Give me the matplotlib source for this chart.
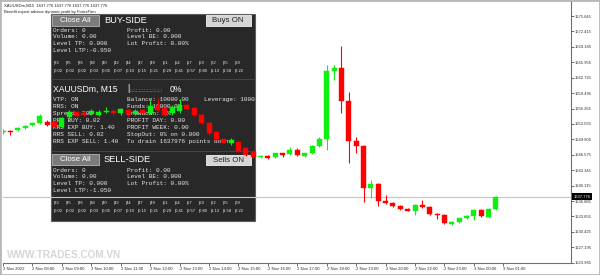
import matplotlib
matplotlib.use('Agg')
import numpy as np
import matplotlib.pyplot as plt
from matplotlib.patches import Rectangle
from matplotlib.transforms import Affine2D, blended_transform_factory

# ---------------- data ----------------
opens = [1651.35, 1651.56, 1651.66, 1652.12, 1652.71, 1653.13, 1653.50, 1653.50, 1652.46, 1654.43,
         1655.54, 1655.33, 1655.12, 1654.91, 1655.47, 1655.81, 1655.26, 1655.96, 1655.12, 1655.85,
         1655.43, 1656.79, 1656.31, 1655.26, 1655.75, 1657.00, 1656.31, 1654.91, 1653.17, 1651.35,
         1649.82, 1648.98, 1649.31, 1647.93, 1647.22, 1646.05, 1646.38, 1646.05, 1646.88, 1646.67,
         1647.58, 1646.38, 1647.01, 1648.41, 1649.88, 1664.19, 1664.69, 1657.84, 1649.52, 1648.41,
         1639.55, 1640.45, 1636.95, 1636.41, 1635.84, 1635.21, 1634.86, 1636.05, 1635.57, 1634.17,
         1633.96, 1632.07, 1632.43, 1633.27, 1633.75, 1635.01, 1633.60, 1635.21]
closes = [1651.45, 1651.28, 1652.12, 1652.67, 1653.13, 1654.70, 1652.81, 1652.46, 1654.22, 1655.60,
          1654.70, 1655.01, 1655.75, 1655.60, 1655.81, 1655.26, 1656.10, 1655.05, 1655.75, 1655.43,
          1656.79, 1655.96, 1654.91, 1656.65, 1657.00, 1656.10, 1654.91, 1653.17, 1651.07, 1649.82,
          1649.10, 1649.67, 1647.43, 1646.53, 1646.05, 1646.38, 1645.96, 1646.88, 1646.53, 1647.58,
          1646.53, 1646.88, 1648.41, 1649.88, 1664.13, 1664.69, 1657.84, 1649.52, 1648.41, 1639.55,
          1640.45, 1636.95, 1636.41, 1635.84, 1635.21, 1634.86, 1636.05, 1635.57, 1634.17, 1633.89,
          1632.22, 1632.43, 1633.27, 1633.75, 1635.01, 1633.75, 1635.21, 1637.776]
highs = [1651.87, 1651.77, 1652.29, 1652.81, 1653.50, 1655.12, 1653.86, 1653.76, 1654.49, 1655.96,
         1655.75, 1655.64, 1656.06, 1655.85, 1656.65, 1656.06, 1656.37, 1656.16, 1656.06, 1656.16,
         1658.15, 1658.47, 1656.58, 1657.00, 1658.20, 1657.21, 1656.48, 1655.12, 1653.34, 1651.56,
         1649.98, 1650.09, 1649.46, 1648.10, 1647.47, 1646.53, 1646.53, 1647.05, 1647.05, 1648.20,
         1647.99, 1647.05, 1648.62, 1650.30, 1665.38, 1665.38, 1669.36, 1659.79, 1650.36, 1648.62,
         1641.29, 1640.66, 1638.15, 1636.58, 1636.05, 1635.42, 1636.26, 1637.10, 1635.74, 1634.38,
         1634.17, 1632.60, 1633.43, 1633.96, 1635.21, 1635.21, 1635.42, 1637.90]
lows = [1651.03, 1650.82, 1651.45, 1651.97, 1652.60, 1652.92, 1652.60, 1652.18, 1652.29, 1654.17,
        1654.49, 1654.70, 1654.91, 1654.70, 1655.26, 1655.01, 1655.01, 1654.80, 1654.91, 1655.12,
        1655.22, 1655.75, 1654.70, 1655.01, 1655.26, 1655.85, 1654.70, 1652.92, 1650.82, 1649.57,
        1648.94, 1648.62, 1647.16, 1646.32, 1645.90, 1645.90, 1645.69, 1645.90, 1646.11, 1646.53,
        1646.32, 1646.21, 1646.84, 1648.20, 1647.58, 1662.24, 1655.39, 1644.79, 1646.95, 1636.74,
        1637.52, 1635.84, 1636.26, 1635.63, 1635.01, 1634.69, 1633.96, 1635.42, 1633.96, 1633.06,
        1632.07, 1631.86, 1632.28, 1633.12, 1632.91, 1633.54, 1633.43, 1635.01]

time_label_bars = [0, 4, 8, 12, 16, 20, 24, 28, 32, 36, 40, 44, 48, 52, 56, 60, 64, 68]
time_labels = ['2 Nov 2022', '2 Nov 08:00', '2 Nov 09:00', '2 Nov 10:00', '2 Nov 11:00',
               '2 Nov 12:00', '2 Nov 13:00', '2 Nov 14:00', '2 Nov 15:00', '2 Nov 16:00',
               '2 Nov 17:00', '2 Nov 18:00', '2 Nov 19:00', '2 Nov 20:00', '2 Nov 22:00',
               '2 Nov 23:00', '3 Nov 00:00', '3 Nov 01:00']
price_ticks = [1623.965, 1627.195, 1630.425, 1633.655, 1636.885, 1640.115, 1643.345, 1646.575,
               1649.805, 1653.035, 1656.265, 1659.495, 1662.725, 1665.955, 1669.185, 1672.415, 1675.645]
current_price = 1637.776

grid_levels = ['|33', '|35', '|36', '|38', '|40', '|42', '|44', '|47',
               '|49', '|51', '|54', '|57', '|59', '|62', '|65', '|69']
grid_lots = ['|0.02', '|0.02', '|0.02', '|0.03', '|0.05', '|0.07', '|0.10', '|0.15',
             '|0.21', '|0.29', '|0.41', '|0.57', '|0.80', '|1.13', '|1.58', '|2.22']

buy_left = ['Orders: 0', 'Volume: 0.00', 'Level TP: 0.000', 'Level LTP:-0.950']
buy_right = ['Profit: 0.00', 'Level BE: 0.000', 'Lot Profit: 0.00%']
sell_left = ['Orders: 0', 'Volume: 0.00', 'Level TP: 0.000', 'Level LTP:-1.050']
sell_right = ['Profit: 0.00', 'Level BE: 0.000', 'Lot Profit: 0.00%']
info_left = ['VTP: ON', 'RRS: ON', 'Spread: 202', 'RRS BUY: 0.02', 'RRS EXP BUY: 1.40',
             'RRS SELL: 0.02', 'RRS EXP SELL: 1.40']
info_right = ['Balance: 10000.00', 'Funds: 10000.00', 'Drawdown: 0%', 'PROFIT DAY: 0.00',
              'PROFIT WEEK: 0.00', 'StopOut: 0% on 0.000', 'To drain 1637976 points down']

# ---------------- figure ----------------
W, H = 600, 275
fig = plt.figure(figsize=(6, 2.75), dpi=100)
fig.patch.set_facecolor('white')
ax = fig.add_axes([3 / W, 12 / H, 568 / W, 262 / H])
ax.set_facecolor('white')
pix = Affine2D().scale(1 / W, -1 / H).translate(0, 1) + fig.transFigure

SANS = 'Liberation Sans'
MONO = 'Liberation Mono'
GREEN = '#10f010'
RED = '#ff0000'

n = len(opens)
idx = np.arange(n)
o = np.array(opens); c = np.array(closes); h = np.array(highs); l = np.array(lows)
cols = [GREEN if cc >= oo else RED for oo, cc in zip(o, c)]
ax.vlines(idx, l, h, colors=cols, lw=0.8, zorder=3)
ax.bar(idx, np.maximum(np.abs(c - o), 0.05), bottom=np.minimum(o, c), width=0.68,
       color=cols, edgecolor=cols, lw=0.3, zorder=3.1)

ax.axhline(current_price, color='#c4c4c4', lw=0.8, zorder=2.5)

ax.set_xlim(0.04, 77.2)
ax.set_ylim(1623.90, 1678.79)

ax.set_xticks(time_label_bars)
ax.set_xticklabels(time_labels, fontsize=3.1, ha='left', family=SANS)
ax.yaxis.tick_right()
ax.set_yticks(price_ticks)
ax.set_yticklabels(['%.3f' % v for v in price_ticks], fontsize=3.0, family=SANS)
ax.tick_params(axis='x', length=1.8, width=0.5, pad=0.8, colors='#303030')
ax.tick_params(axis='y', length=1.8, width=0.5, pad=1.2, colors='#303030')
for s in ['top', 'left']:
    ax.spines[s].set_visible(False)
for s in ['right', 'bottom']:
    ax.spines[s].set_color('#707070')
    ax.spines[s].set_linewidth(0.8)

# current price label
bt = blended_transform_factory(ax.transAxes, ax.transData)
ax.text(1.004, current_price, '%.3f' % current_price, transform=bt, fontsize=3.0, family=SANS,
        color='white', ha='left', va='center', clip_on=False, zorder=10,
        bbox=dict(boxstyle='square,pad=0.35', fc='black', ec='black', lw=0))

# header text top left
ax.text(4, 5.5, 'XAUUSDm,M15  1637.776 1637.776 1637.776 1637.776', transform=pix,
        fontsize=3.0, family=SANS, color='#202020', va='center', zorder=1.2, clip_on=False)
ax.text(4, 11.8, 'Benefit expert advisor dynamic profit by ForexFirm', transform=pix,
        fontsize=3.0, family=SANS, color='#202020', va='center', zorder=1.2, clip_on=False)

# watermark
ax.text(7, 255.5, 'WWW.TRADES.COM.VN', transform=pix, fontsize=7.2, family=SANS,
        weight='bold', color='#d6d6d6', va='center', zorder=0.8, clip_on=False)

# ---------------- panel ----------------
PZ = 1.3
ax.add_patch(Rectangle((50.7, 13.5), 204.3, 207.5, transform=pix, fc='#282828',
                       ec='#5e5e5e', lw=0.8, zorder=PZ, clip_on=False))
for yy in (78.5, 150.5):
    ax.plot([50.7, 255], [yy, yy], transform=pix, color='#4a4a4a', lw=0.6, zorder=PZ + 0.05,
            clip_on=False)

TZ = PZ + 0.1


def button(x, y, w, hh, label, fc, tc, ec):
    ax.add_patch(Rectangle((x, y), w, hh, transform=pix, fc=fc, ec=ec, lw=0.6,
                           zorder=TZ, clip_on=False))
    ax.text(x + w / 2, y + hh / 2 + 0.3, label, transform=pix, fontsize=5.7, family=SANS,
            color=tc, ha='center', va='center', zorder=TZ + 0.05, clip_on=False)


def mono_lines(x, y0, lines, dy=6.9):
    for k, s in enumerate(lines):
        ax.text(x, y0 + k * dy, s, transform=pix, fontsize=4.4, family=MONO, color='#e6e6e6',
                va='center', zorder=TZ, clip_on=False)


def grid_rows(y1, y2):
    for k, (a, b) in enumerate(zip(grid_levels, grid_lots)):
        xx = 53.5 + k * 12.07
        ax.text(xx, y1, a, transform=pix, fontsize=3.0, family=SANS, color='#f0f0f0',
                va='center', zorder=TZ, clip_on=False)
        ax.text(xx, y2, b, transform=pix, fontsize=3.0, family=SANS, color='#f0f0f0',
                va='center', zorder=TZ, clip_on=False)


# BUY-SIDE section
button(52.3, 15.0, 46.7, 10.7, 'Close All', '#7b7b7b', 'white', '#b5b5b5')
ax.text(104.3, 20.6, 'BUY-SIDE', transform=pix, fontsize=6.7, family=SANS, color='white',
        va='center', zorder=TZ, clip_on=False)
button(205.7, 15.3, 45.0, 10.4, 'Buys ON', '#d6d6d6', '#202020', '#f0f0f0')
mono_lines(53.3, 30.0, buy_left)
mono_lines(126.7, 30.0, buy_right)
grid_rows(63.3, 70.7)

# info section
ax.text(53.3, 89.0, 'XAUUSDm, M15', transform=pix, fontsize=6.2, family=SANS, color='white',
        va='center', zorder=TZ, clip_on=False)
ax.text(126.8, 88.5, '|', transform=pix, fontsize=6.5, family=SANS, color='white',
        va='center', zorder=TZ, clip_on=False)
ax.text(129.8, 90.0, '.:.:.:.:.:.:.:.:.:.:.:.:', transform=pix, fontsize=3.6, family=SANS,
        color='#dddddd', va='center', zorder=TZ, clip_on=False)
ax.text(169.5, 89.0, '0%', transform=pix, fontsize=6.2, family=SANS, color='white',
        va='center', zorder=TZ, clip_on=False)
mono_lines(53.3, 99.3, info_left, dy=7.07)
mono_lines(126.7, 99.3, info_right, dy=7.07)
ax.text(204.0, 99.3, 'Leverage: 1000', transform=pix, fontsize=4.4, family=MONO,
        color='#e6e6e6', va='center', zorder=TZ, clip_on=False)

# SELL-SIDE section
button(52.3, 154.0, 46.7, 10.7, 'Close All', '#7b7b7b', 'white', '#b5b5b5')
ax.text(104.0, 159.6, 'SELL-SIDE', transform=pix, fontsize=6.7, family=SANS, color='white',
        va='center', zorder=TZ, clip_on=False)
button(205.7, 154.5, 45.0, 10.4, 'Sells ON', '#d6d6d6', '#202020', '#f0f0f0')
mono_lines(53.3, 170.0, sell_left)
mono_lines(126.7, 170.0, sell_right)
grid_rows(202.7, 210.7)

# window frame
fig.add_artist(Rectangle((0, 0), 1, 1, transform=fig.transFigure, fill=False,
                         ec='#b8b8b8', lw=2.0))

fig.savefig('out.png', dpi=100, facecolor='white')
